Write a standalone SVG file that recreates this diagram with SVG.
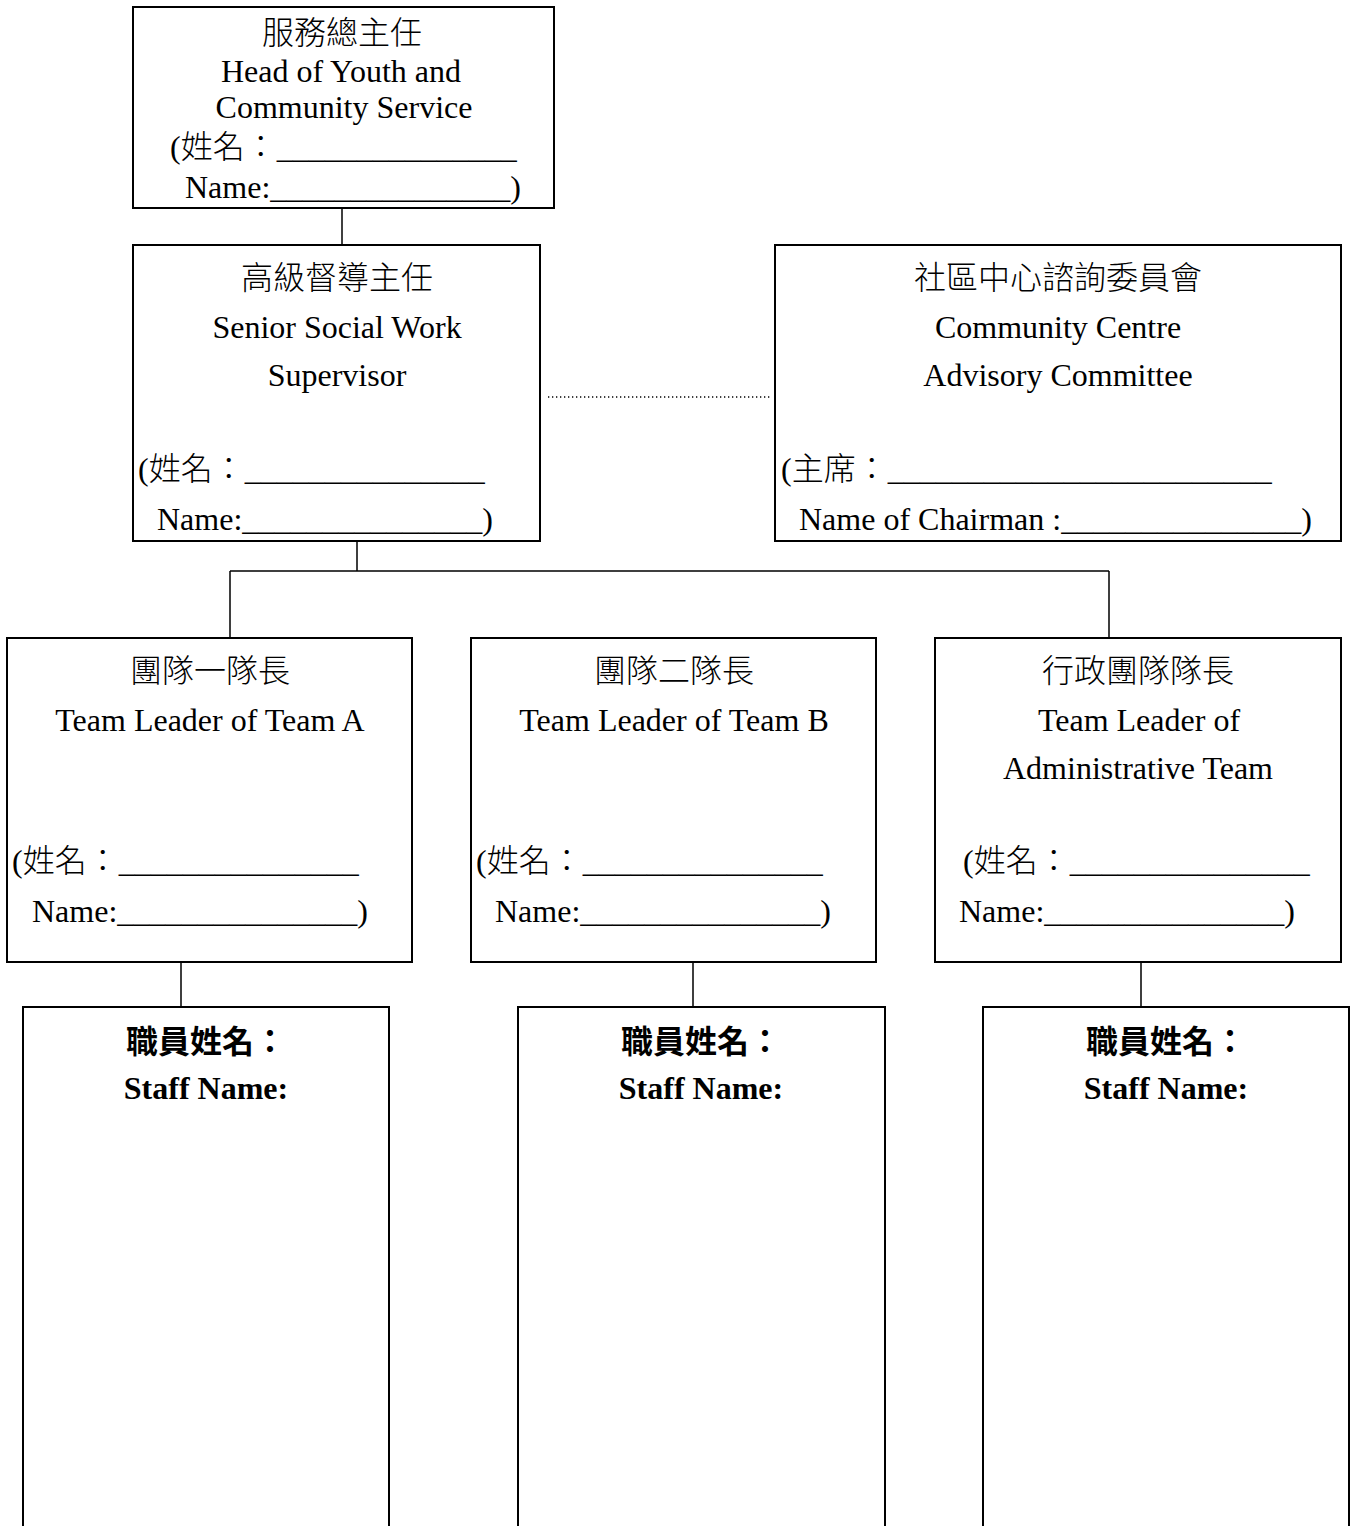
<svg xmlns="http://www.w3.org/2000/svg" width="1354" height="1526" viewBox="0 0 1354 1526">
<style>
.box{fill:#fff;stroke:#000;stroke-width:2}
.conn{fill:none;stroke:#000;stroke-width:1.5}
.dot{fill:none;stroke:#000;stroke-width:1.3;stroke-dasharray:1.3 2.7}
text{font-family:"Liberation Serif","Noto Sans CJK TC",serif;font-size:32px;font-weight:300;fill:#000}
.c{text-anchor:middle}
.b{font-weight:bold}
</style>
<rect width="1354" height="1526" fill="#fff"/>
<g id="connectors">
<path class="conn" d="M342 208V245"/>
<path class="conn" d="M357 541V571M230 571H1109M230 571V638M1109 571V638"/>
<path class="dot" d="M548 397H770"/>
<path class="conn" d="M181 962V1007M693 962V1007M1141 962V1007"/>
</g>
<g id="head">
<rect class="box" x="133" y="7" width="421" height="201"/>
<text class="c" x="342" y="44">服務總主任</text>
<text class="c" x="341" y="82">Head of Youth and</text>
<text class="c" x="344" y="118">Community Service</text>
<text x="170" y="158">(姓名：_______________</text>
<text x="185" y="198">Name:_______________)</text>
</g>
<g id="supervisor">
<rect class="box" x="133" y="245" width="407" height="296"/>
<text class="c" x="337" y="289">高級督導主任</text>
<text class="c" x="337" y="338">Senior Social Work</text>
<text class="c" x="337" y="386">Supervisor</text>
<text x="138" y="480">(姓名：_______________</text>
<text x="157" y="530">Name:_______________)</text>
</g>
<g id="committee">
<rect class="box" x="775" y="245" width="566" height="296"/>
<text class="c" x="1058" y="289">社區中心諮詢委員會</text>
<text class="c" x="1058" y="338">Community Centre</text>
<text class="c" x="1058" y="386">Advisory Committee</text>
<text x="781" y="480">(主席：________________________</text>
<text x="799" y="530">Name of Chairman :_______________)</text>
</g>
<g id="teamA">
<rect class="box" x="7" y="638" width="405" height="324"/>
<text class="c" x="210" y="682">團隊一隊長</text>
<text class="c" x="210" y="731">Team Leader of Team A</text>
<text x="12" y="872">(姓名：_______________</text>
<text x="32" y="922">Name:_______________)</text>
</g>
<g id="teamB">
<rect class="box" x="471" y="638" width="405" height="324"/>
<text class="c" x="674" y="682">團隊二隊長</text>
<text class="c" x="674" y="731">Team Leader of Team B</text>
<text x="476" y="872">(姓名：_______________</text>
<text x="495" y="922">Name:_______________)</text>
</g>
<g id="teamAdmin">
<rect class="box" x="935" y="638" width="406" height="324"/>
<text class="c" x="1138" y="682">行政團隊隊長</text>
<text class="c" x="1139" y="731">Team Leader of</text>
<text class="c" x="1138" y="779">Administrative Team</text>
<text x="963" y="872">(姓名：_______________</text>
<text x="959" y="922">Name:_______________)</text>
</g>
<g id="staffA">
<rect class="box" x="23" y="1007" width="366" height="600"/>
<text class="c b" x="206" y="1053">職員姓名：</text>
<text class="c b" x="206" y="1099">Staff Name:</text>
</g>
<g id="staffB">
<rect class="box" x="518" y="1007" width="367" height="600"/>
<text class="c b" x="701" y="1053">職員姓名：</text>
<text class="c b" x="701" y="1099">Staff Name:</text>
</g>
<g id="staffC">
<rect class="box" x="983" y="1007" width="366" height="600"/>
<text class="c b" x="1166" y="1053">職員姓名：</text>
<text class="c b" x="1166" y="1099">Staff Name:</text>
</g>
</svg>
